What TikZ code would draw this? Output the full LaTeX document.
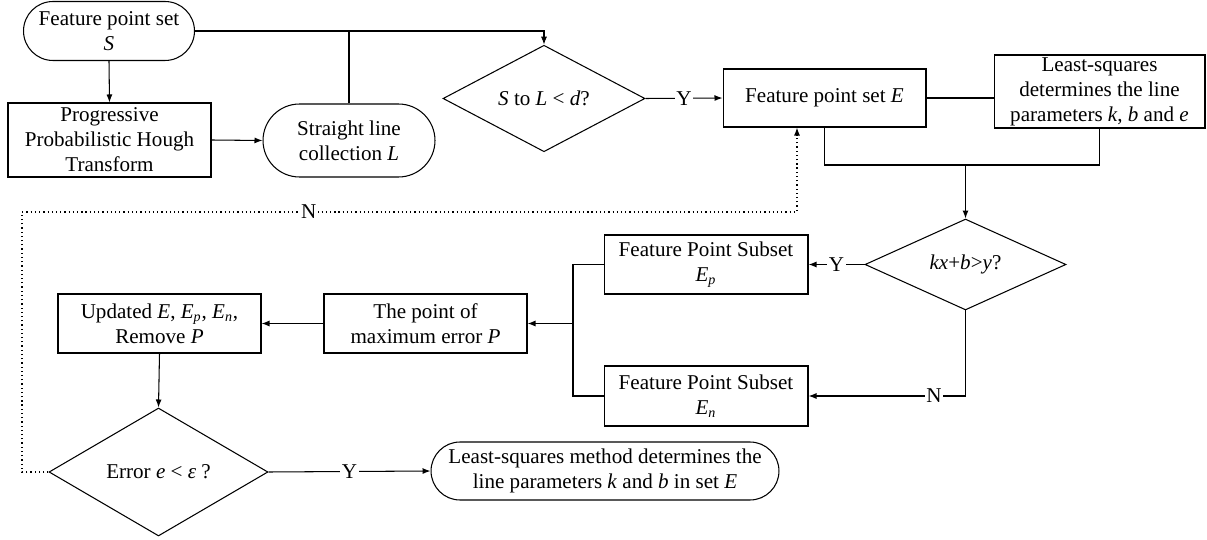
\documentclass[tikz,border=0pt]{standalone}
\usepackage{fontspec}
\setmainfont{Liberation Serif}
\usetikzlibrary{shapes.geometric,arrows.meta}
\begin{document}
\begin{tikzpicture}[x=0.02cm,y=-0.02cm,
  every node/.style={font=\fontsize{12}{14.2}\selectfont, align=center, inner sep=1pt},
  box/.style={draw, line width=0.6pt, rectangle, inner sep=0pt},
  term/.style={draw, line width=0.6pt, rectangle},
  dec/.style={draw, line width=0.6pt, diamond, inner sep=0pt},
  conn/.style={line width=0.6pt},
  arr/.style={line width=0.6pt, -{Latex[length=1.6mm,width=1.2mm]}},
  dots/.style={line width=0.7pt, dash pattern=on 0.7pt off 1.7pt},
  lab/.style={fill=white, inner sep=1pt}]
\useasboundingbox (0,0) rectangle (1207,540);

\node[term, rounded corners=0.59cm, minimum width=3.42cm, minimum height=1.18cm] (start) at (109,31) {Feature point set\\\textit{S}};
\node[box, minimum width=4.06cm, minimum height=1.48cm] (pp) at (109.5,140) {Progressive\\Probabilistic Hough\\Transform};
\node[term, rounded corners=0.73cm, minimum width=3.44cm, minimum height=1.46cm] (L) at (349,140.5) {Straight line\\collection \textit{L}};
\node[dec, minimum width=4.04cm, minimum height=1.46cm] (d1) at (544,98.5) {\textit{S} to \textit{L} < \textit{d}?};
\node[box, minimum width=4.06cm, minimum height=1.16cm] (E) at (824.5,98) {Feature point set \textit{E}};
\node[box, minimum width=4.22cm, minimum height=1.46cm] (LS) at (1099.5,91.5) {Least-squares\\determines the line\\parameters \textit{k}, \textit{b} and \textit{e}};
\node[dec, minimum width=4.02cm, minimum height=1.46cm] (d2) at (965.5,264.5) {\textit{kx}+\textit{b}>\textit{y}?};
\node[box, minimum width=4.08cm, minimum height=1.18cm] (Ep) at (706,264.5) {Feature Point Subset\\\textit{E}\textsubscript{\textit{p}}};
\node[box, minimum width=4.08cm, minimum height=1.2cm] (En) at (706,396) {Feature Point Subset\\\textit{E}\textsubscript{\textit{n}}};
\node[box, minimum width=4.06cm, minimum height=1.18cm] (PM) at (425.5,323.5) {The point of\\maximum error \textit{P}};
\node[box, minimum width=4.06cm, minimum height=1.18cm] (UP) at (159.5,323.5) {Updated \textit{E}, \textit{E}\textsubscript{\textit{p}}, \textit{E}\textsubscript{\textit{n}},\\Remove \textit{P}};
\node[dec, minimum width=4.38cm, minimum height=2.56cm] (d3) at (158.5,472) {Error \textit{e} < \textit{ε} ?};
\node[term, rounded corners=0.58cm, minimum width=6.96cm, minimum height=1.16cm] (fin) at (605,471) {Least-squares method determines the\\line parameters \textit{k} and \textit{b} in set \textit{E}};

\coordinate (j1) at (965.5,165);
\coordinate (jx) at (573,323.5);
\coordinate (c1) at (22,212);
\coordinate (c2) at (797,212);

\draw[arr] (start.east) -| (d1.north);
\draw[conn] (L.north) -- (L.north |- start.east);
\draw[arr] (start.south) -- (pp.north);
\draw[arr] (pp.east) -- (L.west);
\draw[arr] (d1.east) -- node[lab]{Y} (E.west);
\draw[conn] (E.east) -- (E.east -| LS.west);
\draw[conn] (E.south) -- (E.south |- j1) -- (LS.south |- j1) -- (LS.south);
\draw[arr] (j1) -- (d2.north);
\draw[arr] (d2.west) -- node[lab]{Y} (Ep.east);
\draw[arr] (d2.south) |- node[lab, pos=0.6]{N} (En.east);
\draw[conn] (Ep.west) -- (Ep.west -| jx) -- (En.west -| jx) -- (En.west);
\draw[arr] (jx) -- (PM.east);
\draw[arr] (PM.west) -- (UP.east);
\draw[arr] (UP.south) -- (d3.north);
\draw[arr] (d3.east) -- node[lab]{Y} (fin.west);
\draw[dots, -{Latex[length=1.6mm,width=1.2mm]}] (d3.west) -| (c1) -- node[lab, pos=0.37]{N} (c2) -- (c2 |- E.south);
\end{tikzpicture}
\end{document}
